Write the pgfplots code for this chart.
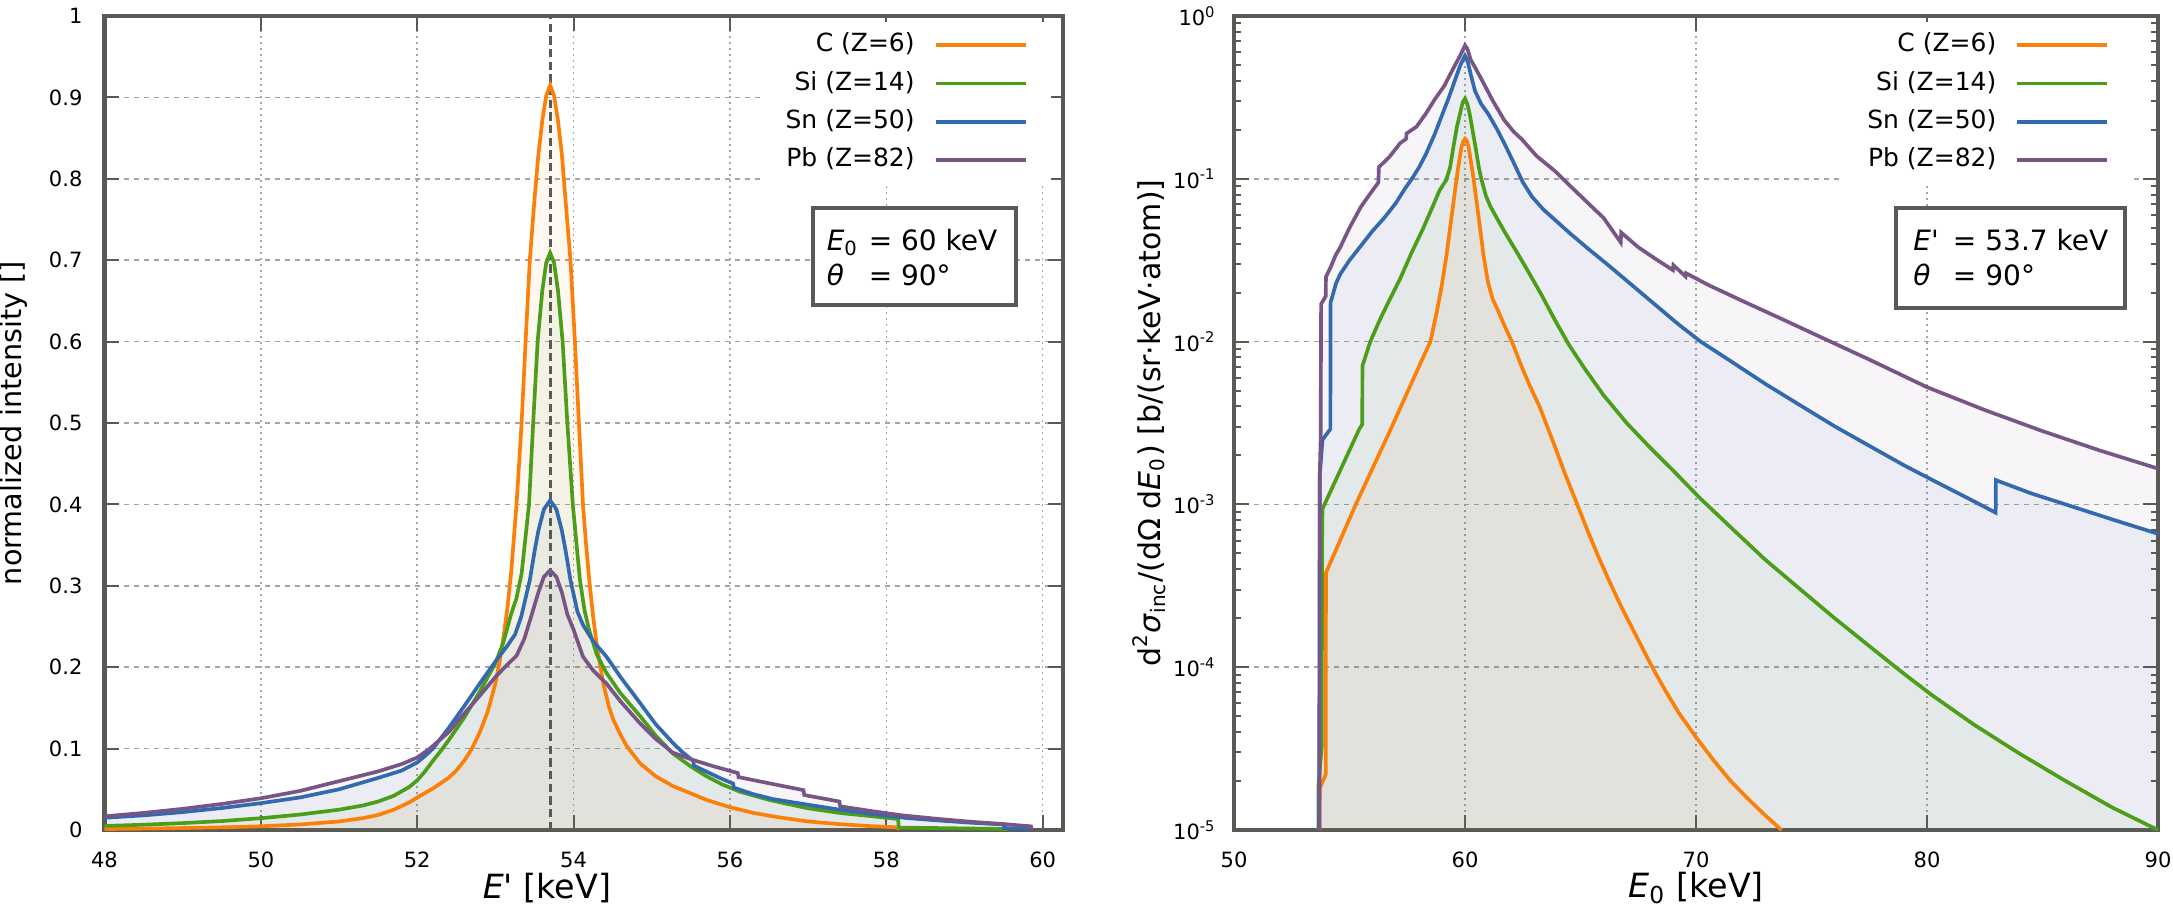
\documentclass[border=0pt]{standalone}
\usepackage{fontspec}
\setmainfont{DejaVu Sans}
\usepackage{pgfplots}
\pgfplotsset{compat=1.18}
\usepackage{pgfplotstable}

\definecolor{cC}{RGB}{250,128,10}
\definecolor{cSi}{RGB}{76,158,26}
\definecolor{cSn}{RGB}{50,105,175}
\definecolor{cPb}{RGB}{120,85,135}
\definecolor{framec}{RGB}{90,90,85}
\definecolor{gridc}{RGB}{165,165,165}

% ---------- Compton profiles, E0 = 60 keV, theta = 90 deg ----------
\pgfplotstableread{
x y
48.0 0.0012
48.5 0.0017
49.0 0.0024
49.5 0.0033
50.0 0.0046
50.5 0.0068
51.0 0.0105
51.3 0.0145
51.5 0.0185
51.7 0.025
51.9 0.034
52.0 0.040
52.2 0.051
52.4 0.064
52.5 0.073
52.6 0.085
52.7 0.100
52.8 0.120
52.9 0.145
53.0 0.180
53.05 0.205
53.1 0.235
53.15 0.270
53.2 0.315
53.27 0.400
53.335 0.500
53.386 0.600
53.44 0.700
53.5 0.775
53.55 0.830
53.6 0.872
53.65 0.902
53.7 0.915
53.75 0.902
53.8 0.872
53.85 0.830
53.9 0.770
53.96 0.700
54.017 0.600
54.068 0.500
54.12 0.400
54.16 0.350
54.2 0.308
54.25 0.262
54.3 0.225
54.38 0.180
54.45 0.152
54.51 0.135
54.6 0.117
54.68 0.103
54.85 0.082
55.05 0.066
55.27 0.054
55.5 0.045
55.7 0.037
56.0 0.028
56.3 0.021
56.6 0.016
57.0 0.0105
57.4 0.0072
57.8 0.0048
58.15 0.0032
58.16 0
}\profC

\pgfplotstableread{
x y
48.0 0.005
48.5 0.0065
49.0 0.0085
49.5 0.011
50.0 0.0145
50.5 0.019
51.0 0.025
51.3 0.030
51.5 0.035
51.7 0.042
51.9 0.053
52.0 0.061
52.1 0.072
52.2 0.085
52.3 0.097
52.4 0.110
52.6 0.138
52.8 0.170
53.0 0.205
53.1 0.230
53.2 0.265
53.27 0.285
53.335 0.315
53.43 0.400
53.483 0.500
53.54 0.600
53.6 0.663
53.65 0.697
53.7 0.709
53.75 0.697
53.8 0.663
53.86 0.600
53.92 0.500
53.99 0.400
54.08 0.308
54.14 0.270
54.2 0.245
54.3 0.215
54.42 0.193
54.6 0.168
54.85 0.140
55.05 0.116
55.27 0.094
55.5 0.078
55.7 0.066
55.9 0.056
56.13 0.047
56.5 0.037
56.98 0.027
57.4 0.021
57.83 0.0168
58.15 0.0135
58.16 0.003
58.8 0.0022
59.55 0.0012
59.56 0
}\profSi

\pgfplotstableread{
x y
48.0 0.015
48.5 0.018
49.0 0.022
49.5 0.027
50.0 0.033
50.5 0.040
51.0 0.050
51.5 0.064
51.8 0.073
52.0 0.083
52.1 0.091
52.2 0.100
52.4 0.125
52.6 0.152
52.8 0.180
53.0 0.207
53.15 0.226
53.25 0.240
53.33 0.262
53.44 0.307
53.5 0.342
53.55 0.368
53.62 0.394
53.7 0.405
53.78 0.394
53.85 0.368
53.9 0.342
53.96 0.307
54.05 0.268
54.12 0.252
54.25 0.232
54.42 0.213
54.6 0.188
54.85 0.156
55.05 0.130
55.27 0.107
55.4 0.095
55.53 0.085
55.54 0.079
55.87 0.064
56.04 0.057
56.05 0.052
56.3 0.044
56.55 0.038
57.0 0.031
57.4 0.025
57.8 0.020
58.26 0.0147
58.7 0.0115
59.11 0.0088
59.5 0.0068
59.51 0.0025
59.8 0.0012
59.81 0
}\profSn

\pgfplotstableread{
x y
48.0 0.0168
48.5 0.021
49.0 0.026
49.5 0.032
50.0 0.039
50.5 0.048
51.0 0.060
51.5 0.072
51.8 0.081
52.0 0.089
52.16 0.100
52.4 0.120
52.6 0.143
52.8 0.165
53.0 0.188
53.15 0.203
53.27 0.214
53.37 0.235
53.45 0.260
53.55 0.292
53.62 0.311
53.7 0.319
53.78 0.311
53.85 0.292
53.92 0.265
54.0 0.246
54.12 0.213
54.25 0.196
54.42 0.180
54.6 0.158
54.85 0.131
55.05 0.112
55.27 0.095
55.53 0.086
55.8 0.078
56.1 0.070
56.11 0.065
56.47 0.058
56.94 0.049
56.95 0.043
57.4 0.035
57.41 0.029
57.83 0.023
58.2 0.018
58.68 0.0135
59.1 0.010
59.49 0.0074
59.85 0.0045
59.86 0
}\profPb

% ---------- DDCS versus E0, E' = 53.7 keV, theta = 90 deg ----------
\pgfplotstableread{
x y
53.70 1e-5
53.71 1.8e-5
53.97 2.2e-5
53.98 3.8e-4
55.27 1.0e-3
56.71 2.75e-3
58.0 0.0070
58.5 0.0100
58.8 0.0158
59.0 0.0224
59.2 0.034
59.4 0.056
59.55 0.081
59.7 0.117
59.85 0.158
59.93 0.170
60.0 0.176
60.07 0.172
60.15 0.158
60.35 0.105
60.57 0.061
60.8 0.0339
61.0 0.0229
61.2 0.0182
61.43 0.0155
61.7 0.0126
62.03 0.0100
62.44 0.00708
62.8 0.00537
63.23 0.00398
63.5 0.00316
63.88 0.00229
64.3 0.00158
64.74 0.00110
65.33 0.000676
65.8 0.000468
66.24 0.000339
66.77 0.000234
67.2 0.000178
67.74 0.000126
68.22 0.0000933
68.7 0.0000708
69.25 0.0000525
70.0 0.0000372
70.75 0.0000269
71.5 0.0000200
72.2 0.0000158
73.0 0.0000123
73.7 0.00001
}\ddcsC

\pgfplotstableread{
x y
53.65 1e-5
53.66 1.9e-5
53.80 3.3e-5
53.81 5.5e-4
53.83 9.4e-4
55.42 2.9e-3
55.55 3.1e-3
55.56 7.1e-3
55.9 0.0100
56.3 0.0135
56.71 0.0178
57.2 0.0245
57.7 0.0355
58.17 0.049
58.6 0.0676
58.9 0.085
59.18 0.098
59.35 0.117
59.5 0.158
59.65 0.209
59.8 0.257
59.9 0.295
60.0 0.311
60.1 0.288
60.2 0.251
60.3 0.209
60.45 0.158
60.6 0.117
60.72 0.098
60.9 0.079
61.1 0.0676
61.3 0.060
61.73 0.0468
62.2 0.0363
62.7 0.0275
63.3 0.0195
63.9 0.0135
64.5 0.00955
65.2 0.00676
66.0 0.00468
67.0 0.00316
68.0 0.00224
69.0 0.00162
70.15 0.00110
71.5 0.000724
73.0 0.000457
74.5 0.000302
76.0 0.000200
77.67 0.000129
79.0 0.0000912
80.2 0.0000676
82.0 0.0000447
84.0 0.0000295
86.0 0.0000200
88.0 0.0000138
90.0 0.00001
}\ddcsSi

\pgfplotstableread{
x y
53.68 1e-5
53.69 3.4e-5
53.71 1.5e-3
53.83 2.5e-3
54.17 2.9e-3
54.18 0.0174
54.42 0.0229
54.6 0.0260
55.0 0.0316
55.5 0.0389
56.0 0.0479
56.5 0.0575
57.0 0.0708
57.4 0.0871
57.7 0.100
58.0 0.117
58.3 0.141
58.7 0.190
59.0 0.245
59.3 0.316
59.6 0.417
59.8 0.500
60.0 0.570
60.1 0.537
60.25 0.437
60.43 0.347
60.7 0.288
61.0 0.251
61.4 0.200
61.73 0.162
62.1 0.126
62.5 0.0955
62.9 0.0776
63.4 0.0646
63.88 0.0562
64.5 0.0468
65.33 0.0372
66.2 0.0295
67.2 0.0224
68.2 0.0170
69.2 0.0129
70.2 0.0100
71.5 0.00759
73.0 0.00550
74.5 0.00407
76.0 0.00302
77.5 0.00229
79.0 0.00174
80.5 0.00135
82.0 0.00105
82.97 0.00089
82.98 0.00141
84.5 0.00117
86.0 0.00100
88.0 0.00081
90.0 0.00066
}\ddcsSn

\pgfplotstableread{
x y
53.70 1e-5
53.71 1.5e-3
53.75 2.5e-3
53.77 0.017
53.97 0.019
53.98 0.025
54.2 0.029
54.4 0.034
54.6 0.038
55.0 0.050
55.5 0.0676
56.0 0.085
56.25 0.095
56.27 0.118
56.7 0.135
57.2 0.166
57.45 0.176
57.47 0.190
57.9 0.209
58.3 0.251
58.7 0.309
59.1 0.372
59.5 0.479
59.8 0.575
60.0 0.660
60.1 0.631
60.25 0.537
60.45 0.479
60.72 0.407
61.2 0.302
61.7 0.229
62.1 0.195
62.44 0.176
63.1 0.138
63.88 0.112
64.6 0.0891
65.33 0.0708
66.0 0.0575
66.74 0.0407
66.76 0.0468
67.5 0.0380
68.22 0.0324
69.0 0.0275
69.02 0.0295
69.55 0.0251
69.57 0.0263
70.5 0.0224
72.0 0.0178
73.7 0.0138
75.5 0.0105
77.5 0.00776
80.0 0.00525
82.5 0.00380
85.0 0.00282
87.5 0.00214
90.0 0.00166
}\ddcsPb

\tikzset{boxtext/.style={anchor=base west, inner sep=0pt, font=\fontsize{8.4}{10}\selectfont}}

\pgfplotsset{
  panel/.style={
    scale only axis,
    height=244.2pt,
    axis line style={draw=framec, line width=1.3pt},
    every tick/.style={draw=framec, line width=0.6pt},
    major tick length=4.5pt,
    minor tick length=2pt,
    tick align=inside,
    grid=major,
    x grid style={draw=gridc, line width=0.45pt, dash pattern=on 0.6pt off 1.2pt},
    y grid style={draw=gridc, line width=0.45pt, dash pattern=on 1.5pt off 1.5pt},
    tick label style={font=\fontsize{6.3}{7}\selectfont},
    /pgf/number format/assume math mode=true,
    xticklabel style={yshift=-3pt},
    label style={font=\fontsize{10}{12}\selectfont},
    legend cell align=right,
    legend plot pos=right,
    legend image code/.code={\draw[##1] (0pt,0pt) -- (27pt,0pt);},
    legend style={draw=none, fill=white,
      font=\fontsize{7.5}{9}\selectfont,
      inner xsep=7pt, inner ysep=3pt, row sep=3.5pt, column sep=5.7pt,
      nodes={inner sep=0pt, text height=6pt, text depth=2pt}},
  },
  areafill/.style={draw=none, fill=#1, fill opacity=0.06, forget plot},
  curve/.style={draw=#1, line width=1.1pt},
}

\begin{document}
\begin{tikzpicture}
\path[use as bounding box] (0,0) rectangle (651.9pt,-272.7pt);

% ---------------- left panel ----------------
\begin{axis}[panel,
  at={(31.35pt,-249pt)}, anchor=south west,
  width=287.55pt,
  xmin=48, xmax=60.26, ymin=0, ymax=1,
  xtick={48,50,52,54,56,58,60},
  ytick={0,0.1,0.2,0.3,0.4,0.5,0.6,0.7,0.8,0.9,1},
  yticklabel style={xshift=-3.1pt},
  xlabel={\textit{E}\textquotesingle{} [keV]},
  xlabel style={at={(rel axis cs:0.4617,-0.071)}, anchor=center},
  ylabel={normalized intensity []},
  ylabel style={at={(rel axis cs:-0.0944,0.5)}, anchor=center, font=\fontsize{8.6}{10}\selectfont},
  legend style={at={(rel axis cs:1,1)}, anchor=north east, xshift=-3.5pt, yshift=-1.5pt},
]
\addplot[areafill=cC] table {\profC} \closedcycle;
\addplot[areafill=cSi] table {\profSi} \closedcycle;
\addplot[areafill=cSn] table {\profSn} \closedcycle;
\addplot[areafill=cPb] table {\profPb} \closedcycle;
\addplot[draw=framec, line width=0.9pt, dash pattern=on 2.5pt off 1.3pt, forget plot]
  coordinates {(53.7,0) (53.7,1)};
\addplot[curve=cC] table {\profC};
\addlegendentry{C (Z=6)}
\addplot[curve=cSi] table {\profSi};
\addlegendentry{Si (Z=14)}
\addplot[curve=cSn] table {\profSn};
\addlegendentry{Sn (Z=50)}
\addplot[curve=cPb] table {\profPb};
\addlegendentry{Pb (Z=82)}
\draw[framec, line width=1.2pt, fill=white]
  (rel axis cs:0.7389,0.7638) rectangle (rel axis cs:0.951,0.645);
\node[boxtext, xshift=4pt] at (rel axis cs:0.7389,0.7125) {\textit{E}\textsubscript{0}};
\node[boxtext, xshift=16.6pt] at (rel axis cs:0.7389,0.7125) {=};
\node[boxtext, xshift=26.3pt] at (rel axis cs:0.7389,0.7125) {60 keV};
\node[boxtext, xshift=4pt] at (rel axis cs:0.7389,0.6695) {\textit{θ}};
\node[boxtext, xshift=16.6pt] at (rel axis cs:0.7389,0.6695) {=};
\node[boxtext, xshift=26.3pt] at (rel axis cs:0.7389,0.6695) {90°};
\end{axis}

% ---------------- right panel ----------------
\begin{axis}[panel,
  at={(370.2pt,-249pt)}, anchor=south west,
  width=277.2pt,
  ymode=log,
  xmin=50, xmax=90, ymin=1e-5, ymax=1,
  xtick={50,60,70,80,90},
  ytick={1e-5,1e-4,1e-3,1e-2,1e-1,1},
  yticklabels={10\textsuperscript{-5},10\textsuperscript{-4},10\textsuperscript{-3},10\textsuperscript{-2},10\textsuperscript{-1},10\textsuperscript{0}},
  minor ytick={2e-5,3e-5,4e-5,5e-5,6e-5,7e-5,8e-5,9e-5,
               2e-4,3e-4,4e-4,5e-4,6e-4,7e-4,8e-4,9e-4,
               2e-3,3e-3,4e-3,5e-3,6e-3,7e-3,8e-3,9e-3,
               2e-2,3e-2,4e-2,5e-2,6e-2,7e-2,8e-2,9e-2,
               0.2,0.3,0.4,0.5,0.6,0.7,0.8,0.9},
  yticklabel style={xshift=-1.8pt},
  xlabel={\textit{E}\textsubscript{0} [keV]},
  xlabel style={at={(rel axis cs:0.5,-0.071)}, anchor=center},
  ylabel={d\textsuperscript{2}\textit{σ}\textsubscript{inc}/(dΩ d\textit{E}\textsubscript{0}) [b/(sr·keV·atom)]},
  ylabel style={at={(rel axis cs:-0.092,0.5)}, anchor=center, font=\fontsize{9}{10}\selectfont},
  legend style={at={(rel axis cs:1,1)}, anchor=north east, xshift=-7.5pt, yshift=-1.5pt},
]
% areas under each curve, closed along the lower axis limit
\addplot[areafill=cC] table {\ddcsC} -- cycle;
\addplot[areafill=cSi] table {\ddcsSi} -- cycle;
\addplot[areafill=cSn] table {\ddcsSn} -- (axis cs:90,1e-5) -- cycle;
\addplot[areafill=cPb] table {\ddcsPb} -- (axis cs:90,1e-5) -- cycle;
\addplot[curve=cC] table {\ddcsC};
\addlegendentry{C (Z=6)}
\addplot[curve=cSi] table {\ddcsSi};
\addlegendentry{Si (Z=14)}
\addplot[curve=cSn] table {\ddcsSn};
\addlegendentry{Sn (Z=50)}
\addplot[curve=cPb] table {\ddcsPb};
\addlegendentry{Pb (Z=82)}
\draw[framec, line width=1.2pt, fill=white]
  (rel axis cs:0.7165,0.7641) rectangle (rel axis cs:0.9643,0.641);
\node[boxtext, xshift=5pt] at (rel axis cs:0.7165,0.7125) {\textit{E}\textquotesingle};
\node[boxtext, xshift=16.8pt] at (rel axis cs:0.7165,0.7125) {=};
\node[boxtext, xshift=26.6pt] at (rel axis cs:0.7165,0.7125) {53.7 keV};
\node[boxtext, xshift=5pt] at (rel axis cs:0.7165,0.6695) {\textit{θ}};
\node[boxtext, xshift=16.8pt] at (rel axis cs:0.7165,0.6695) {=};
\node[boxtext, xshift=26.6pt] at (rel axis cs:0.7165,0.6695) {90°};
\end{axis}
\end{tikzpicture}
\end{document}
